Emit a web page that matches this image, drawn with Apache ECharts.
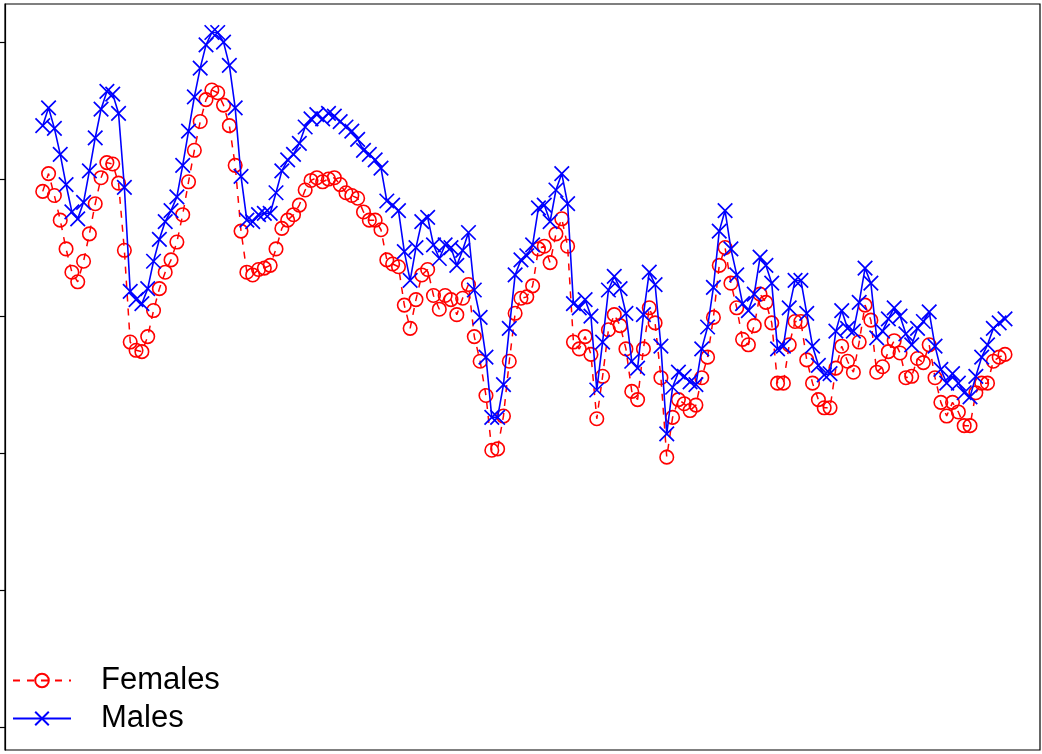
<!DOCTYPE html>
<html>
<head>
<meta charset="utf-8">
<script src="https://cdn.jsdelivr.net/npm/echarts@6/dist/echarts.min.js"></script>
<style>
html,body{margin:0;padding:0;background:#fff;}
#chart{width:1042px;height:754px;}
</style>
</head>
<body>
<div id="chart"></div>
<script>
// Values (arbitrary units; left-axis ticks at 0..500)
const females = [391,404,388,370,349,332,325,340,360,382,401,412,411,397,348,281,275,274,285,304,
320,332,341,354,374,398,421,442,458,465,463,454,439,410,362,332,330,334,335,337,
349,364,370,374,381,392,399,401,398,400,401,396,390,388,386,376,370,370,363,341,
338,336,308,291,312,330,334,315,305,315,312,301,313,323,285,267,242,202,203,227,
267,302,313,314,322,349,351,339,360,371,351,281,276,285,272,225,256,290,301,293,
276,245,239,276,306,295,255,197,226,239,236,231,235,255,270,299,337,350,324,306,
283,279,293,316,310,295,251,251,279,296,296,268,251,239,233,233,262,278,267,259,
281,308,297,259,263,274,282,273,255,256,269,266,279,255,237,227,237,230,220,220,
244,251,251,267,270,272];
const males = [439,452,437,418,396,376,371,383,406,430,451,464,462,448,394,318,312,309,320,340,
356,369,377,387,410,435,460,481,498,507,507,500,483,452,402,370,369,374,375,375,
390,406,414,418,426,438,444,447,444,448,446,442,438,435,429,421,418,414,408,384,
381,377,347,326,350,369,372,352,342,352,350,337,348,361,319,299,270,226,226,250,
291,330,341,344,352,379,381,369,392,404,382,309,306,312,300,246,281,319,329,320,
302,267,262,301,332,323,278,214,248,259,256,252,250,276,292,321,362,377,349,330,
309,304,316,343,337,324,276,278,306,326,326,302,278,264,257,258,289,304,291,289,
310,335,324,284,289,298,306,300,287,279,291,296,303,278,261,251,258,251,244,241,
256,270,279,291,295,298];
const seriesNames = ['Females', 'Males'];
const yTicks = [0, 100, 200, 300, 400, 500];

const chart = echarts.init(document.getElementById('chart'), null, {renderer: 'canvas'});
const font = 'Liberation Sans, Arial, Helvetica, sans-serif';
chart.setOption({
  animation: false,
  backgroundColor: '#ffffff',
  grid: {left: 5, right: 2, top: 4, bottom: 4, show: true, borderColor: '#000', borderWidth: 1.2, backgroundColor: 'transparent'},
  xAxis: {
    type: 'value', min: -6.47, max: 171.0,
    show: false
  },
  yAxis: {
    type: 'value', min: -16.8, max: 527.8,
    axisLine: {show: true, onZero: false, lineStyle: {color: '#000', width: 1.2}},
    axisTick: {show: true, inside: false, length: 6, lineStyle: {color: '#000', width: 1.2}, customValues: yTicks},
    axisLabel: {show: false, customValues: yTicks},
    splitLine: {show: false}
  },
  legend: {
    data: seriesNames,
    orient: 'vertical',
    left: 12, top: 665,
    itemWidth: 58, itemHeight: 17, itemGap: 7,
    padding: 0,
    textStyle: {fontFamily: font, fontSize: 31, color: '#000', lineHeight: 31, padding: [0, 0, 0, 25]}
  },
  series: [
    {
      name: 'Females', type: 'line',
      data: females.map((v, i) => [i, v]),
      symbol: 'circle', symbolSize: 13.5, showAllSymbol: true,
      lineStyle: {color: '#ff0000', width: 1.5, type: [7, 7]},
      itemStyle: {color: 'rgba(255,255,255,0)', borderColor: '#ff0000', borderWidth: 1.6},
      z: 2
    },
    {
      name: 'Males', type: 'line',
      data: males.map((v, i) => [i, v]),
      symbol: 'path://M0,0L10,10M0,10L10,0', symbolSize: 14.5, showAllSymbol: true,
      lineStyle: {color: '#0000ff', width: 1.6},
      itemStyle: {color: '#0000ff', borderColor: '#0000ff', borderWidth: 1.7},
      z: 3
    }
  ]
});
</script>
</body>
</html>
